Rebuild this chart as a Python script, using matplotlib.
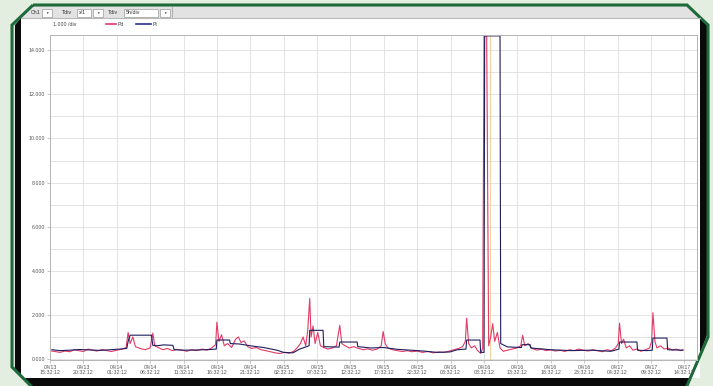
import matplotlib
matplotlib.use('Agg')
import matplotlib.pyplot as plt
from matplotlib.patches import Polygon, Rectangle

plt.rcParams['font.family'] = ['Liberation Sans', 'DejaVu Sans']

# time axis: hours after 04/13 15:32:12
tick_hours = list(range(0, 100, 5))
tick_labels = ['04/13\n15:32:12', '04/13\n20:32:12',
               '04/14\n01:32:12', '04/14\n06:32:12', '04/14\n11:32:12', '04/14\n16:32:12', '04/14\n21:32:12',
               '04/15\n02:32:12', '04/15\n07:32:12', '04/15\n12:32:12', '04/15\n17:32:12', '04/15\n22:32:12',
               '04/16\n03:32:12', '04/16\n08:32:12', '04/16\n13:32:12', '04/16\n18:32:12', '04/16\n23:32:12',
               '04/17\n04:32:12', '04/17\n09:32:12', '04/17\n14:32:12']
y_ticks = [0, 2000, 4000, 6000, 8000, 10000, 12000, 14000]
y_labels = ['0.000', '2.000', '4.000', '6.000', '8.000', '10.000', '12.000', '14.000']

# Pd (red, spiky)
pd_hours = [0.0, 0.8, 1.5, 2.2, 3.0, 3.6, 4.3, 5.0, 5.7, 6.4, 7.0, 7.8, 8.5, 9.2, 10.0, 10.8, 11.4, 11.7,
            12.0, 12.4, 12.8, 13.5, 14.2, 15.0, 15.4, 15.7, 16.2, 16.9, 17.6, 18.3, 19.0, 19.8, 20.5,
            21.2, 22.0, 22.8, 23.5, 24.2, 24.8, 25.0, 25.3, 25.7, 26.1, 26.6, 27.2, 27.8, 28.2, 28.6,
            29.1, 29.6, 30.2, 30.9, 31.6, 32.3, 33.0, 33.7, 34.4, 35.1, 35.8, 36.5, 37.0, 37.5, 37.9,
            38.3, 38.6, 38.9, 39.1, 39.4, 39.7, 40.1, 40.5, 41.0, 41.6, 42.3, 42.9, 43.4, 43.7, 44.1,
            44.8, 45.5, 46.2, 46.9, 47.6, 48.3, 49.0, 49.6, 49.9, 50.2, 50.6, 51.3, 52.0, 52.8, 53.5,
            54.2, 55.0, 55.8, 56.6, 57.4, 58.2, 59.0, 59.8, 60.5, 61.2, 61.8, 62.2, 62.4, 62.7, 63.1,
            63.6, 64.0, 64.5, 64.8, 65.0, 65.4, 65.7, 66.0, 66.3, 66.6, 67.0, 67.4, 67.9, 68.5, 69.2,
            69.9, 70.5, 70.8, 71.1, 71.6, 72.2, 72.9, 73.6, 74.3, 75.0, 75.7, 76.4, 77.1, 77.8, 78.5,
            79.2, 79.9, 80.6, 81.3, 82.0, 82.7, 83.4, 84.1, 84.7, 85.1, 85.3, 85.6, 85.9, 86.3, 86.8,
            87.3, 87.9, 88.5, 89.2, 89.8, 90.1, 90.3, 90.6, 90.9, 91.4, 92.0, 92.6, 93.2, 93.8, 94.4,
            94.8]
pd_vals = [380, 340, 300, 360, 330, 420, 380, 340, 450, 400, 360, 430, 380, 340, 400, 450, 520, 1200,
           700, 1000, 560, 480, 420, 500, 1170, 600, 520, 420, 480, 380, 440, 400, 350,
           420, 380, 450, 400, 500, 650, 1670, 800, 1100, 600, 700, 520, 900, 1000, 750,
           820, 560, 480, 520, 420, 380, 330, 280, 250, 300, 260, 350, 500, 700, 1000,
           600, 1300, 2750, 1000, 1500, 700, 1200, 600, 520, 450, 500, 600, 1530, 700, 620,
           500, 560, 480, 420, 460, 400, 450, 600, 1250, 700, 500, 420, 380, 340, 380,
           330, 360, 300, 340, 280, 320, 300, 360, 420, 480, 560, 800, 1850, 700, 500,
           600, 400, 250, 500, 14650, 14650, 600, 1000, 1600, 800, 1200, 500, 350, 400, 450,
           500, 600, 1080, 600, 700, 480, 400, 450, 380, 420, 360, 400, 340, 420, 380,
           450, 400, 360, 420, 380, 330, 420, 380, 500, 700, 1620, 700, 900, 500, 600,
           400, 450, 350, 420, 500, 800, 2100, 800, 500, 600, 450, 500, 400, 450, 380,
           420]

# Pt (dark blue, stepped)
pt_hours = [0.3, 1.5, 3.0, 4.5, 6.0, 7.5, 9.0, 10.5, 11.5, 11.7, 12.0, 15.2, 15.4, 16.0, 17.0, 18.4,
            18.6, 20.0, 22.0, 24.0, 24.9, 25.0, 26.9, 27.0, 28.4, 30.0, 32.0, 34.0, 35.0, 36.4, 37.4,
            38.8, 38.9, 40.9, 41.0, 43.3, 43.4, 46.0, 46.1, 48.0, 50.0, 52.0, 54.0, 56.0, 58.0, 59.9,
            61.0, 62.3, 62.4, 64.4, 64.5, 65.0, 65.1, 67.4, 67.5, 68.5, 70.6, 70.7, 71.9, 72.0, 75.0,
            78.0, 81.0, 84.0, 85.2, 85.3, 87.9, 88.0, 89.4, 90.2, 90.3, 92.4, 92.5, 94.8]
pt_vals = [420, 380, 400, 430, 410, 390, 420, 450, 480, 800, 1080, 1080, 620, 600, 640, 620,
           420, 400, 410, 430, 450, 860, 860, 700, 680, 600, 520, 400, 300, 280, 450,
           600, 1300, 1300, 560, 540, 770, 770, 560, 500, 520, 440, 400, 360, 300, 320,
           420, 450, 860, 860, 300, 300, 14650, 14650, 700, 550, 520, 650, 650, 500, 420,
           380, 400, 350, 450, 770, 770, 400, 380, 400, 950, 950, 420, 400]

W, H = 713, 386
fig = plt.figure(figsize=(W / 100, H / 100), dpi=100)
fig.patch.set_facecolor('#e4eee0')

# frame (screenshot window) drawn in pixel coordinates
bg = fig.add_axes([0, 0, 1, 1], zorder=0)
bg.set_xlim(0, W)
bg.set_ylim(H, 0)
bg.axis('off')

frame = [(33, 5), (687, 5), (708, 25), (708, 337), (686, 388), (33, 388), (12, 367), (12, 25)]
bg.add_patch(Polygon(frame, closed=True, facecolor='#e2e2e2', edgecolor='none'))
shadow = [(15, 25), (21, 18), (700, 18), (707, 25), (707, 335), (688, 386), (32, 386), (15, 369)]
bg.add_patch(Polygon(shadow, closed=True, facecolor='#0a0a0a', edgecolor='none'))
bg.add_patch(Rectangle((21, 18), 679, 360, facecolor='white', edgecolor='none'))
bg.plot([21, 700], [18, 18], color='#b8b8b8', lw=0.8)
bg.add_patch(Polygon(frame, closed=True, facecolor='none', edgecolor='#1d6a3a', lw=2.2))

# toolbar
boxes = [(42, 9, 10, 8), (77, 9, 14, 8), (93, 9, 10, 8), (124, 9, 34, 8), (160, 9, 10, 8)]
for x, y, w, h in boxes:
    bg.add_patch(Rectangle((x, y), w, h, facecolor='white', edgecolor='#9a9a9a', lw=0.5))
tb = dict(fontsize=3.8, color='#333333', va='center')
bg.text(31, 13, 'Ch1', **tb)
bg.text(62, 13, 'Tdiv', **tb)
bg.text(79, 13, 'x/1', **tb)
bg.text(108, 13, 'Tdiv', **tb)
bg.text(126, 13, '5h/div', **tb)
for x in [47, 98, 165]:
    bg.text(x, 13, '\u25bc', fontsize=2.5, color='#333333', ha='center', va='center')
bg.plot([172, 172], [7, 17], color='#a8a8a8', lw=0.6)

# legend row
bg.text(53, 24, '1.000 /div', fontsize=3.8, color='#444444', va='center')
bg.plot([106, 116], [24, 24], color='#e23a66', lw=1.2)
bg.text(118, 24, 'Pd', fontsize=3.8, color='#444444', va='center')
bg.plot([136, 151], [24, 24], color='#2c2c96', lw=1.2)
bg.text(153, 24, 'Pt', fontsize=3.8, color='#444444', va='center')

# chart
ax = fig.add_axes([50 / W, 26 / H, 647 / W, 325 / H], zorder=2)
ax.set_facecolor('white')
ax.set_xlim(0, 96.9)
ax.set_ylim(-45, 14690)
ax.set_yticks(y_ticks)
ax.set_yticklabels(y_labels)
ax.set_yticks(range(1000, 15000, 2000), minor=True)
ax.set_xticks(tick_hours)
ax.set_xticklabels(tick_labels, linespacing=1.0)
ax.grid(True, which='both', color='#dedede', lw=0.6)
ax.set_axisbelow(True)
ax.tick_params(axis='both', which='both', length=2, width=0.5, color='#b0b0b0',
               labelsize=3.8, labelcolor='#555555', pad=1.5)
ax.tick_params(axis='y', which='minor', length=0)
for s in ax.spines.values():
    s.set_color('#b4b4b4')
    s.set_linewidth(0.7)

ax.axvline(65.9, color='#f2c890', lw=0.6)
ax.plot(pd_hours, pd_vals, color='#e23a66', lw=0.8)
ax.plot(pt_hours, pt_vals, color='#1e1e5e', lw=0.8)

fig.savefig('out.png', dpi=100, facecolor=fig.get_facecolor())
